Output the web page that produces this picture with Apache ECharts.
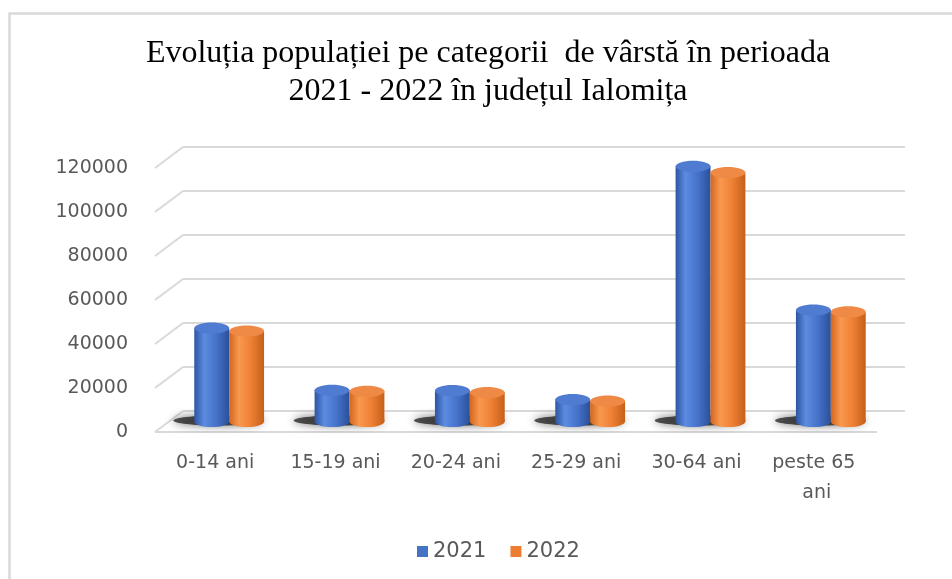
<!DOCTYPE html>
<html lang="ro">
<head>
<meta charset="UTF-8">
<title>Evoluția populației pe categorii de vârstă</title>
<script src="https://cdn.jsdelivr.net/npm/echarts@6/dist/echarts.min.js"></script>
<style>
  html, body { margin: 0; padding: 0; background: #fff; }
  #chart { width: 952px; height: 579px; }
</style>
</head>
<body>
<div id="chart"></div>
<script>
// date
const categories = ['0-14 ani', '15-19 ani', '20-24 ani', '25-29 ani', '30-64 ani', 'peste 65 ani'];
const values2021 = [42500, 14200, 14000, 10000, 116000, 50700];
const values2022 = [41100, 13700, 13200, 9300, 113200, 49800];
const yTicks = [0, 20000, 40000, 60000, 80000, 100000, 120000];

const chart = echarts.init(document.getElementById('chart'));

// adancimea "3D": deplasarea peretelui din spate fata de fata
const DX = 28, DY = -21;
const labelFont = 'DejaVu Sans';

const blueBody = ['#2c55a3', '#5c8be0', '#4875cc', '#2a509b'];
const orangeBody = ['#d4661d', '#f99850', '#ef8236', '#c65f1a'];

function cylinder(api, shift, body, topColor) {
  const idx = api.value(0);
  const val = api.value(1);
  const base = api.coord([idx, 0]);
  const top = api.coord([idx, val]);
  const band = api.size([1, 0])[0];
  const w = band * 0.29;
  const cx = base[0] + shift * w;
  const rx = w / 2, ry = w * 0.16;
  const grad = {
    type: 'linear', x: 0, y: 0, x2: 1, y2: 0,
    colorStops: [
      { offset: 0, color: body[0] },
      { offset: 0.28, color: body[1] },
      { offset: 0.6, color: body[2] },
      { offset: 1, color: body[3] }
    ]
  };
  return {
    type: 'group',
    children: [
      { type: 'ellipse', shape: { cx: cx, cy: base[1], rx: rx, ry: ry }, style: { fill: grad } },
      { type: 'rect', shape: { x: cx - rx, y: top[1], width: w, height: base[1] - top[1] }, style: { fill: grad } },
      { type: 'ellipse', shape: { cx: cx, cy: top[1], rx: rx, ry: ry }, style: { fill: topColor } }
    ]
  };
}

const option = {
  backgroundColor: '#fff',
  animation: false,
  graphic: [
    { type: 'rect', left: 7, top: 11, shape: { width: 1000, height: 700 }, style: { fill: 'none', stroke: '#d9d9d9', lineWidth: 2.5 }, silent: true }
  ],
  title: {
    text: 'Evoluția populației pe categorii  de vârstă în perioada\n2021 - 2022 în județul Ialomița',
    left: 488,
    textAlign: 'center',
    top: 35,
    padding: 0,
    textStyle: {
      fontFamily: 'Liberation Serif',
      fontWeight: 'normal',
      fontSize: 32,
      lineHeight: 38,
      color: '#000'
    }
  },
  legend: {
    data: ['2021', '2022'],
    left: 412,
    top: 536,
    icon: 'rect',
    itemWidth: 11,
    itemHeight: 11,
    itemGap: 24,
    textStyle: { fontFamily: labelFont, fontSize: 21, color: '#595959' }
  },
  grid: [
    // fata (etichete)
    { left: 155, right: 75, top: 168, bottom: 147 },
    // peretele din spate (linii de grila)
    { left: 155 + DX, right: 75 - DX, top: 168 + DY, bottom: 147 - DY },
    // mijloc (cilindri)
    { left: 155 + DX / 2, right: 75 - DX / 2, top: 168 + DY / 2, bottom: 147 - DY / 2 }
  ],
  xAxis: [
    {
      gridIndex: 0, type: 'category', data: categories,
      axisLine: { show: false }, axisTick: { show: false },
      axisLabel: {
        margin: 16, fontFamily: labelFont, fontSize: 19, color: '#595959',
        lineHeight: 30, width: 105, overflow: 'break', interval: 0
      }
    },
    { gridIndex: 1, type: 'category', data: categories, show: false },
    { gridIndex: 2, type: 'category', data: categories, show: false }
  ],
  yAxis: [
    {
      gridIndex: 0, type: 'value', min: 0, max: 120000, interval: 20000,
      axisLine: { show: false }, axisTick: { show: false }, splitLine: { show: false },
      axisLabel: {
        margin: 27, fontFamily: labelFont, fontSize: 19, color: '#595959',
        formatter: function (v) { return String(v); }
      }
    },
    {
      gridIndex: 1, type: 'value', min: 0, max: 120000, interval: 20000,
      axisLine: { show: false }, axisTick: { show: false }, axisLabel: { show: false },
      splitLine: { show: true, lineStyle: { color: '#d9d9d9', width: 2 } }
    },
    {
      gridIndex: 2, type: 'value', min: 0, max: 120000, interval: 20000, show: false
    }
  ],
  series: [
    // diagonalele din stanga si marginea din fata a podelei
    {
      type: 'custom', name: 'grid3d', xAxisIndex: 1, yAxisIndex: 1, silent: true, z: 1,
      data: yTicks.map(function (v) { return [0, v]; }),
      renderItem: function (params, api) {
        const p = api.coord([0, api.value(1)]);
        const band = api.size([1, 0])[0];
        const left = p[0] - band / 2;
        const children = [{
          type: 'line',
          shape: { x1: left - DX, y1: p[1] - DY, x2: left, y2: p[1] },
          style: { stroke: '#d9d9d9', lineWidth: 2 }
        }];
        if (api.value(1) === 0) {
          children.push({
            type: 'line',
            shape: { x1: left - DX, y1: p[1] - DY, x2: left - DX + band * categories.length, y2: p[1] - DY },
            style: { stroke: '#d9d9d9', lineWidth: 2 }
          });
        }
        return { type: 'group', children: children };
      }
    },
    // umbra de sub cilindri
    {
      type: 'custom', name: 'umbra', xAxisIndex: 2, yAxisIndex: 2, silent: true, z: 2,
      data: categories.map(function (c, i) { return [i, 0]; }),
      renderItem: function (params, api) {
        const base = api.coord([api.value(0), 0]);
        const band = api.size([1, 0])[0];
        const w = band * 0.29;
        return {
          type: 'ellipse',
          shape: { cx: base[0] - w * 0.3, cy: base[1] - 1, rx: w * 1.3, ry: 5 },
          style: { fill: 'rgba(20,20,20,0.7)', shadowBlur: 9, shadowColor: 'rgba(0,0,0,0.8)' }
        };
      }
    },
    {
      type: 'custom', name: '2021', xAxisIndex: 2, yAxisIndex: 2, z: 3,
      itemStyle: { color: '#4472c4' },
      data: values2021.map(function (v, i) { return [i, v]; }),
      renderItem: function (params, api) { return cylinder(api, -0.5, blueBody, '#4f7bd0'); }
    },
    {
      type: 'custom', name: '2022', xAxisIndex: 2, yAxisIndex: 2, z: 3,
      itemStyle: { color: '#ed7d31' },
      data: values2022.map(function (v, i) { return [i, v]; }),
      renderItem: function (params, api) { return cylinder(api, 0.5, orangeBody, '#ee8a45'); }
    }
  ]
};

chart.setOption(option);
</script>
</body>
</html>
